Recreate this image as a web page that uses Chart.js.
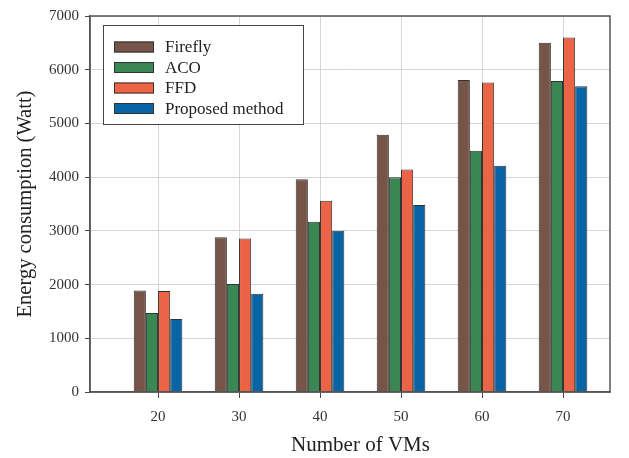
<!DOCTYPE html>
<html>
<head>
<meta charset="utf-8">
<script src="https://cdn.jsdelivr.net/npm/chart.js@4/dist/chart.umd.min.js"></script>
<style>
  html, body { margin: 0; padding: 0; background: #fff; }
  #wrap { width: 629px; height: 458px; }
</style>
</head>
<body>
<div id="wrap"><canvas id="barChart"></canvas></div>
<script>
// values
const vmCounts = [20, 30, 40, 50, 60, 70];
const firefly = [1890, 2880, 3960, 4790, 5810, 6500];
const aco = [1470, 2010, 3170, 4000, 4490, 5790];
const ffd = [1880, 2860, 3560, 4140, 5760, 6600];
const proposed = [1360, 1830, 3000, 3480, 4210, 5690];
const seriesNames = ['Firefly', 'ACO', 'FFD', 'Proposed method'];
const yTicks = [0, 1000, 2000, 3000, 4000, 5000, 6000, 7000];

const serif = '"Liberation Serif", "Times New Roman", serif';
const colors = ['#765548', '#3b8753', '#ec6446', '#0864a4'];

// frame around the plot area
const frame = {
    id: 'frame',
    afterDraw(chart) {
        const a = chart.chartArea, ctx = chart.ctx;
        ctx.save();
        ctx.strokeStyle = '#555';
        ctx.lineWidth = 1.5;
        ctx.strokeRect(a.left, a.top, a.right - a.left, a.bottom - a.top);
        ctx.restore();
    }
};

// boxed legend inside the plot, top-left
const boxLegend = {
    id: 'boxLegend',
    afterDraw(chart) {
        const ctx = chart.ctx, a = chart.chartArea;
        const x0 = a.left + 13, y0 = a.top + 9, w = 200, h = 99;
        ctx.save();
        ctx.fillStyle = '#fff';
        ctx.fillRect(x0, y0, w, h);
        ctx.strokeStyle = '#444';
        ctx.lineWidth = 1;
        ctx.strokeRect(x0 + 0.5, y0 + 0.5, w, h);
        ctx.font = '17px ' + serif;
        ctx.textBaseline = 'middle';
        chart.data.datasets.forEach((ds, i) => {
            const cy = y0 + 22 + i * 20.5;
            ctx.fillStyle = ds.backgroundColor;
            ctx.fillRect(x0 + 11, cy - 5.5, 40, 11);
            ctx.strokeStyle = '#333';
            ctx.strokeRect(x0 + 11.5, cy - 5, 39, 10);
            ctx.fillStyle = '#222';
            ctx.fillText(ds.label, x0 + 62, cy + 1);
        });
        ctx.restore();
    }
};

const ctx = document.getElementById('barChart').getContext('2d');
new Chart(ctx, {
    type: 'bar',
    data: {
        datasets: [firefly, aco, ffd, proposed].map((vals, i) => ({
            label: seriesNames[i],
            data: vals.map((v, j) => ({ x: vmCounts[j], y: v })),
            backgroundColor: colors[i],
            borderColor: '#333',
            borderWidth: 1,
            categoryPercentage: 0.6,
            barPercentage: 1.0
        }))
    },
    options: {
        responsive: true,
        maintainAspectRatio: false,
        animation: false,
        layout: { padding: { left: 0, right: 19, top: 16, bottom: 0 } },
        plugins: { legend: { display: false }, tooltip: { enabled: false } },
        scales: {
            x: {
                type: 'linear',
                offset: false,
                min: 11.6,
                max: 75.8,
                afterBuildTicks: axis => { axis.ticks = vmCounts.map(v => ({ value: v })); },
                afterFit: s => { s.height = 66; },
                grid: { offset: false, color: '#d6d6d6', tickColor: '#444', tickLength: 6 },
                border: { color: '#555', width: 1.5 },
                ticks: { font: { family: serif, size: 15 }, color: '#333', padding: 10, callback: v => String(v) },
                title: {
                    display: true, text: '\u2002\u2002Number of VMs',
                    font: { family: serif, size: 21 }, color: '#222',
                    padding: { top: 18, bottom: 0 }
                }
            },
            y: {
                min: 0,
                max: 7000,
                afterBuildTicks: axis => { axis.ticks = yTicks.map(v => ({ value: v })); },
                afterFit: s => { s.width = 90; },
                grid: { color: '#d6d6d6', tickColor: '#444', tickLength: 5 },
                border: { color: '#555', width: 1.5 },
                ticks: { font: { family: serif, size: 15 }, color: '#333', padding: 6, callback: v => String(v) },
                title: {
                    display: true, text: 'Energy consumption (Watt)',
                    font: { family: serif, size: 20.5 }, color: '#222',
                    padding: { top: 13, bottom: 0 }
                }
            }
        }
    },
    plugins: [frame, boxLegend]
});
</script>
</body>
</html>
